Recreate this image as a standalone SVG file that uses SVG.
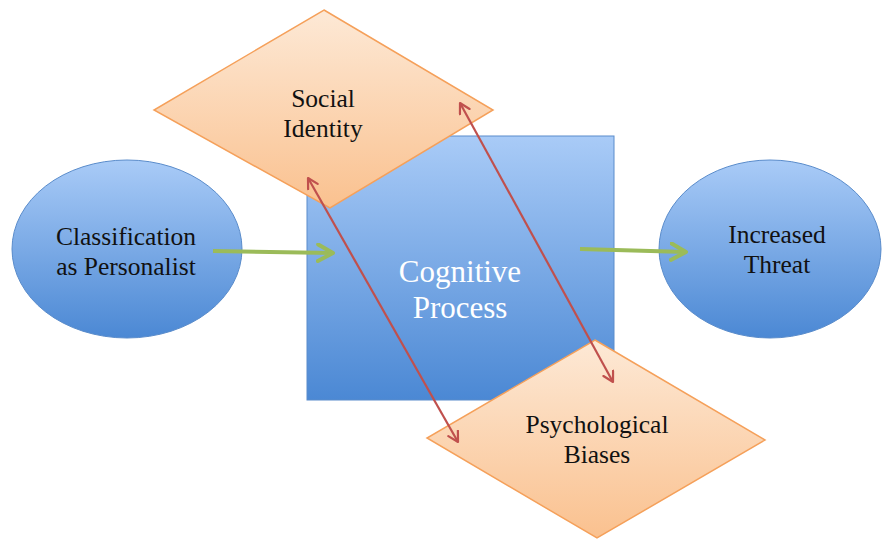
<svg xmlns="http://www.w3.org/2000/svg" width="883" height="542" viewBox="0 0 883 542">
  <defs>
    <linearGradient id="blueFill" x1="0" y1="0" x2="0" y2="1">
      <stop offset="0" stop-color="#a9cbf7"/>
      <stop offset="1" stop-color="#4b88d4"/>
    </linearGradient>
    <linearGradient id="orangeFill" x1="0" y1="0" x2="0" y2="1">
      <stop offset="0" stop-color="#fde9d6"/>
      <stop offset="1" stop-color="#fac18f"/>
    </linearGradient>
    <marker id="greenHead" viewBox="0 0 12 12" refX="10" refY="6" markerWidth="5" markerHeight="5" orient="auto" markerUnits="strokeWidth">
      <path d="M1,1 L10,6 L1,11" fill="none" stroke="#9bbb59" stroke-width="2.4" stroke-linecap="round" stroke-linejoin="round"/>
    </marker>
    <marker id="redHead" viewBox="0 0 12 12" refX="10" refY="6" markerWidth="6" markerHeight="6" orient="auto-start-reverse" markerUnits="strokeWidth">
      <path d="M1,1 L10,6 L1,11" fill="none" stroke="#c0504d" stroke-width="2" stroke-linecap="round" stroke-linejoin="round"/>
    </marker>
  </defs>
  <style>
    .blue { fill: url(#blueFill); stroke: #5a8ccb; stroke-width: 1; }
    .orange { fill: url(#orangeFill); stroke: #f5a05a; stroke-width: 1.5; }
    .lbl { font-size: 25.5px; fill: #111; text-anchor: middle; }
    .big { font-size: 31px; fill: #ffffff; text-anchor: middle; }
    .green { stroke: #9bbb59; stroke-width: 4; fill: none; }
    .red { stroke: #c0504d; stroke-width: 2.2; fill: none; }
  </style>

  <rect width="883" height="542" fill="#ffffff"/>

  <g font-family="'Liberation Serif', 'Times New Roman', serif">
    <g id="classification">
      <ellipse class="blue" cx="127" cy="249" rx="115" ry="89"/>
      <text class="lbl" x="126" y="245">Classification</text>
      <text class="lbl" x="126" y="275">as Personalist</text>
    </g>

    <g id="increased-threat">
      <ellipse class="blue" cx="770" cy="249" rx="111" ry="89"/>
      <text class="lbl" x="777" y="243">Increased</text>
      <text class="lbl" x="777" y="273">Threat</text>
    </g>

    <g id="cognitive-process">
      <rect class="blue" x="307" y="136" width="307" height="264"/>
      <text class="big" x="460" y="282">Cognitive</text>
      <text class="big" x="460" y="318">Process</text>
    </g>

    <g id="social-identity">
      <polygon class="orange" points="324,10 493,110 330,208 154,110"/>
      <text class="lbl" x="323" y="107">Social</text>
      <text class="lbl" x="323" y="137">Identity</text>
    </g>

    <g id="psychological-biases">
      <polygon class="orange" points="595,340 765,440 597,538 427,438"/>
      <text class="lbl" x="597" y="433">Psychological</text>
      <text class="lbl" x="597" y="463">Biases</text>
    </g>
  </g>

  <g id="connectors">
    <line class="green" x1="213" y1="251" x2="333" y2="253" marker-end="url(#greenHead)"/>
    <line class="green" x1="580" y1="249" x2="686" y2="252" marker-end="url(#greenHead)"/>
    <line class="red" x1="308" y1="178" x2="458" y2="442" marker-start="url(#redHead)" marker-end="url(#redHead)"/>
    <line class="red" x1="460" y1="103" x2="613" y2="382" marker-start="url(#redHead)" marker-end="url(#redHead)"/>
  </g>
</svg>
